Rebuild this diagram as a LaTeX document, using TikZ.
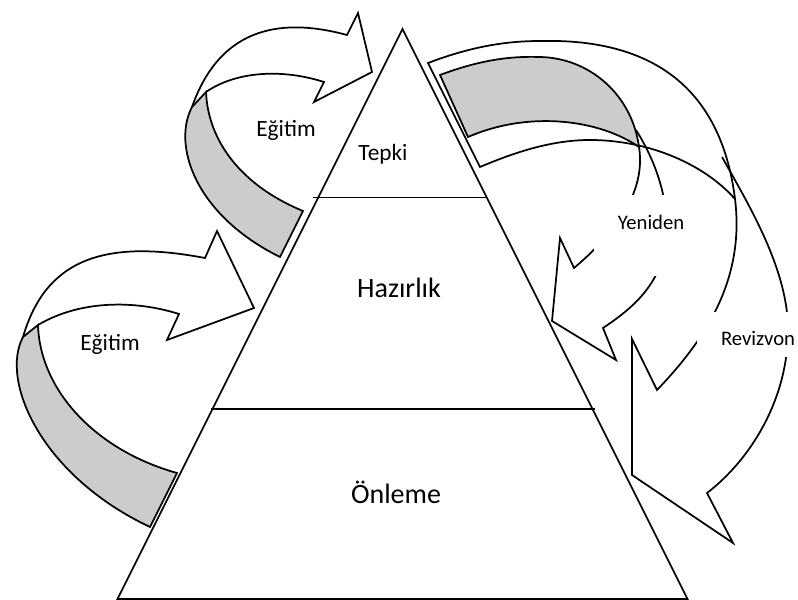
\documentclass[tikz,border=0pt]{standalone}
\usepackage{fontspec}
\setmainfont{Carlito}
\definecolor{backside}{RGB}{204,204,204}
\begin{document}
\begin{tikzpicture}[x=0.75pt,y=-0.75pt,
  edge/.style={line width=1.3pt, line join=miter, miter limit=8},
  lbl/.style={inner sep=0pt, anchor=base},
  big/.style={lbl, font=\fontsize{21}{24}\selectfont},
  mid/.style={lbl, font=\fontsize{17.5}{20}\selectfont},
  small/.style={lbl, font=\fontsize{15.5}{18}\selectfont},
]
\useasboundingbox (0,0) rectangle (798,599);

% ---- pyramid -------------------------------------------------------
\coordinate (apex) at (402.5,29);
\coordinate (baseL) at (117.5,599);
\coordinate (baseR) at (687.5,599);
\coordinate (cutAL) at (313,197.5);
\coordinate (cutAR) at (486.5,197.5);
\coordinate (cutBL) at (211,409);
\coordinate (cutBR) at (595,409);
\draw[edge] (apex) -- (baseL) -- (baseR) -- cycle;
\draw[edge] (cutAL) -- (cutAR);
\draw[edge] (cutBL) -- (cutBR);

% ---- upper left curved arrow --------------------------------------
\coordinate (ulJo) at (192,107);  \coordinate (ulJi) at (206,92);
\coordinate (ulEo) at (280,257);  \coordinate (ulEi) at (303,211);
\coordinate (ulNo) at (347,35);   \coordinate (ulBo) at (358,13);
\coordinate (ulTip) at (372,72);
\coordinate (ulBi) at (314,102);  \coordinate (ulNi) at (324,82);
\filldraw[edge, fill=backside]
  (ulJo) .. controls (172,145) and (195,215) .. (ulEo) -- (ulEi)
  .. controls (240,185) and (208,140) .. (ulJi) -- cycle;
\draw[edge]
  (ulJo) .. controls (212,50) and (255,10) .. (ulNo)
  -- (ulBo) -- (ulTip) -- (ulBi) -- (ulNi)
  .. controls (280,68) and (235,72) .. (ulJi);

% ---- lower left curved arrow --------------------------------------
\coordinate (llJo) at (23,337);   \coordinate (llJi) at (38,325);
\coordinate (llEo) at (150,527);  \coordinate (llEi) at (177,473);
\coordinate (llNo) at (205,258);  \coordinate (llBo) at (217,231);
\coordinate (llTip) at (254,308);
\coordinate (llBi) at (167,340);  \coordinate (llNi) at (179,314);
\filldraw[edge, fill=backside]
  (llJo) .. controls (0,380) and (40,475) .. (llEo) -- (llEi)
  .. controls (95,450) and (40,390) .. (llJi) -- cycle;
\draw[edge]
  (llJo) .. controls (45,262) and (100,238) .. (llNo)
  -- (llBo) -- (llTip) -- (llBi) -- (llNi)
  .. controls (135,300) and (80,300) .. (llJi);

% ---- right: large outline arrow ------------------------------------
\coordinate (rvTL) at (428,63);   \coordinate (rvBL) at (480,167);
\coordinate (rvJ) at (735,199);   \coordinate (rvFo) at (722,157);
\coordinate (rvNo) at (707,493);  \coordinate (rvBo) at (733,543);
\coordinate (rvTip) at (632,475);
\coordinate (rvBi) at (632,339);  \coordinate (rvNi) at (657,390);
\draw[edge]
  (rvJ) .. controls (722,95) and (660,38) .. (540,41)
  .. controls (505,41) and (470,47) .. (rvTL) -- (rvBL)
  .. controls (520,150) and (555,140) .. (590,140)
  .. controls (650,140) and (705,165) .. (rvJ);
\draw[edge]
  (rvFo) .. controls (750,207) and (788,270) .. (788,330)
  .. controls (788,400) and (750,460) .. (rvNo)
  -- (rvBo) -- (rvTip) -- (rvBi) -- (rvNi)
  .. controls (705,340) and (745,280) .. (rvJ);

% ---- right: inner arrow with shaded back ---------------------------
\coordinate (ynTL) at (440,75);   \coordinate (ynBL) at (468,137);
\coordinate (ynJ) at (639,147);   \coordinate (ynFo) at (636,130);
\coordinate (ynNo) at (603,328);  \coordinate (ynBo) at (616,360);
\coordinate (ynTip) at (552,321);
\coordinate (ynBi) at (560,238);  \coordinate (ynNi) at (574,268);
\filldraw[edge, fill=backside]
  (ynTL) .. controls (480,60) and (510,56) .. (540,57)
  .. controls (590,58) and (632,95) .. (ynJ)
  .. controls (600,120) and (530,110) .. (ynBL) -- cycle;
\draw[edge]
  (ynFo) .. controls (655,160) and (670,200) .. (666,240)
  .. controls (662,285) and (630,310) .. (ynNo)
  -- (ynBo) -- (ynTip) -- (ynBi) -- (ynNi)
  .. controls (625,225) and (645,185) .. (ynJ);

% ---- text boxes ------------------------------------------------------
\fill[white] (594,195) rectangle (708,276);
\fill[white] (697,312) rectangle (798,357);

\node[mid]   (tepki)    at (383,160)   {Tepki};
\node[big]   (hazirlik) at (399,297)   {Hazırlık};
\node[big]   (onleme)   at (396,503)   {Önleme};
\node[mid]   (egitimA)  at (286,137)   {Eğitim};
\node[mid]   (egitimB)  at (110,350.5) {Eğitim};
\node[small] (yeniden)  at (651,229)   {Yeniden};
\node[small] (revizyon) at (758,345)   {Revizvon};
\end{tikzpicture}
\end{document}
